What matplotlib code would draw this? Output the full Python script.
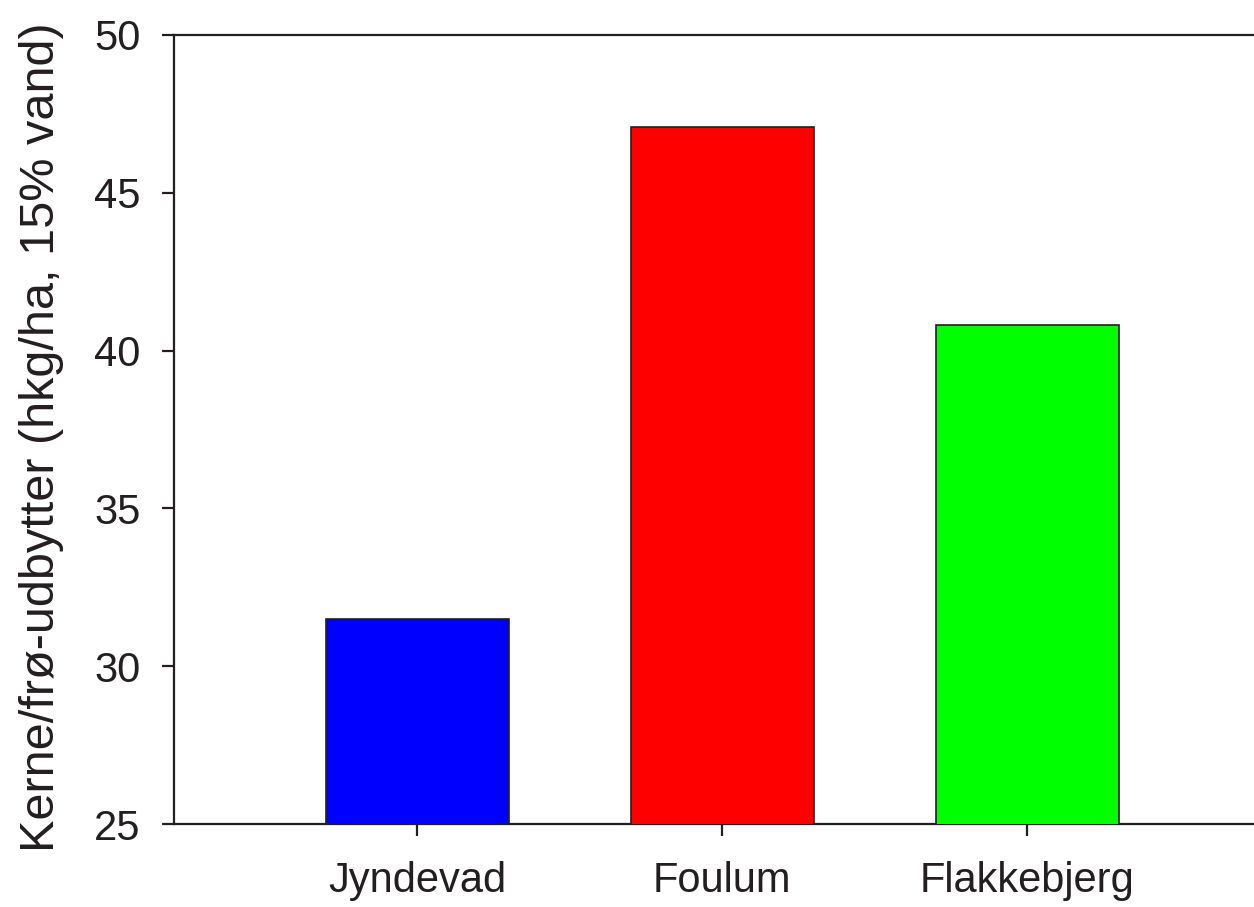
import matplotlib.pyplot as plt

sites = ['Jyndevad', 'Foulum', 'Flakkebjerg']
yields = [31.5, 47.1, 40.8]
colors = ['#0000ff', '#ff0000', '#00ff00']

plt.rcParams['font.family'] = ['Liberation Sans', 'DejaVu Sans']
ink = '#231f20'

fig = plt.figure(figsize=(12.54, 9.07), dpi=100)
ax = fig.add_axes([174 / 1254, 1 - 824 / 907, 1 - 174 / 1254, (824 - 35) / 907])

x = range(len(sites))
ax.bar(x, yields, width=0.6, color=colors, edgecolor=ink, linewidth=1.2, zorder=3)

ax.set_xlim(-0.797, 2.744)
ax.set_ylim(25, 50)
ax.set_yticks([25, 30, 35, 40, 45, 50])
ax.set_xticks(list(x))
ax.set_xticklabels(sites)
ax.set_ylabel('Kerne/frø-udbytter (hkg/ha, 15% vand)', fontsize=35, color=ink)
ax.yaxis.set_label_coords(-0.102, 0.49)

for s in ['left', 'top', 'bottom']:
    ax.spines[s].set_linewidth(1.6)
    ax.spines[s].set_color(ink)
ax.spines['right'].set_visible(False)
ax.tick_params(axis='both', direction='out', length=8.6, width=1.6, color=ink,
               labelcolor=ink, labelsize=30)
ax.tick_params(axis='y', pad=15.5)
ax.tick_params(axis='x', pad=18)

plt.savefig('out.png', dpi=100)
